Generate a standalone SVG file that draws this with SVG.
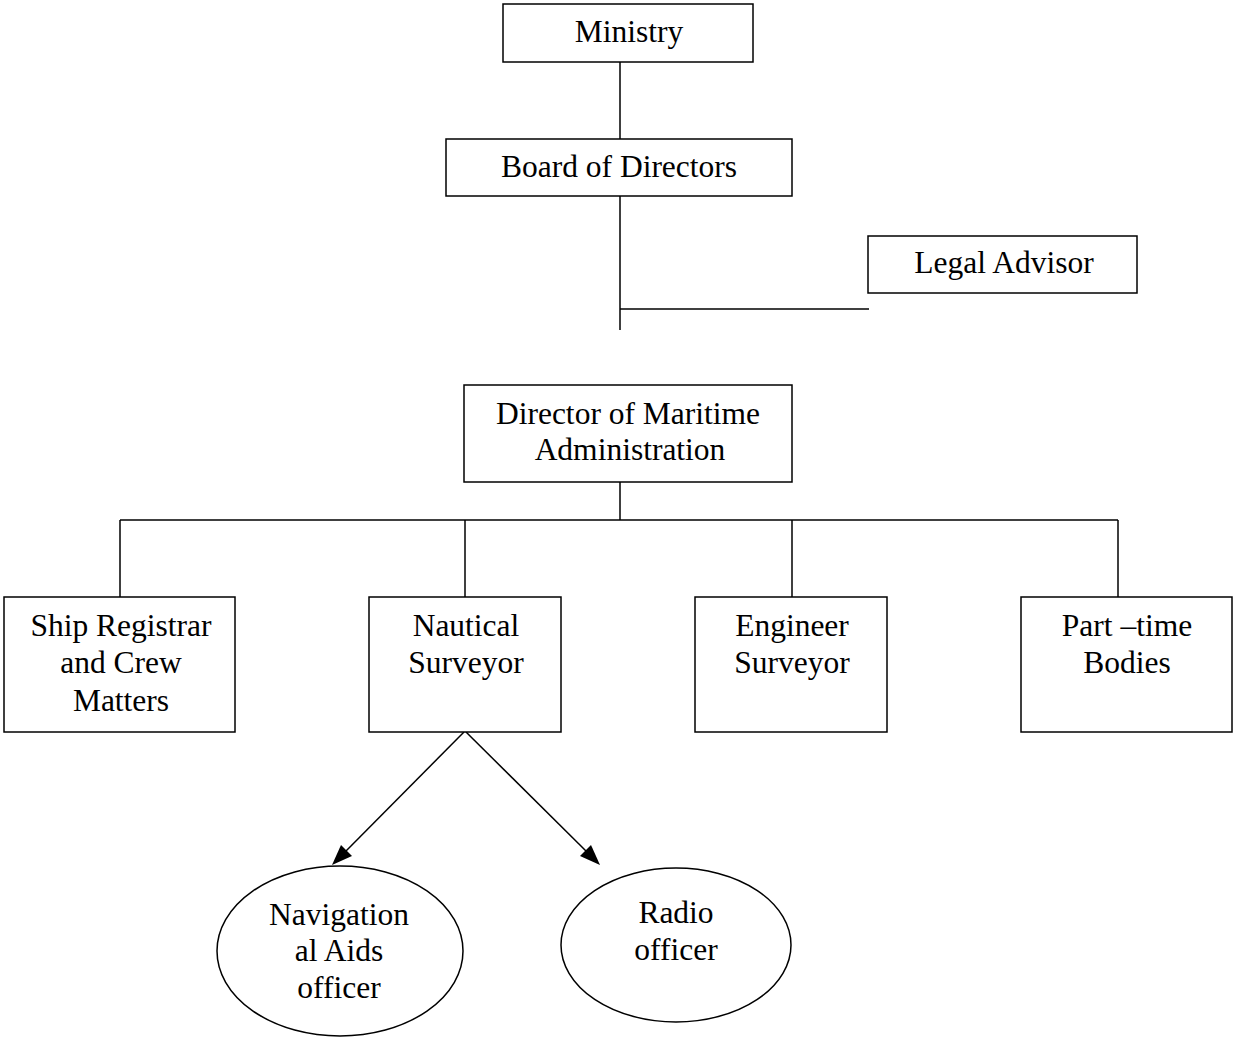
<svg xmlns="http://www.w3.org/2000/svg" width="1234" height="1038" viewBox="0 0 1234 1038">
<defs>
<style>
.box{fill:#fff;stroke:#000;stroke-width:1.5}
.t{font-family:"Liberation Serif","Times New Roman",serif;font-size:31.5px;fill:#000;text-anchor:middle}
.c{stroke:#000;stroke-width:1.5;fill:none}
.ah{fill:#000}
</style>
</defs>
<rect width="1234" height="1038" fill="#fff"/>
<g id="connectors">
<line class="c" x1="620" y1="62" x2="620" y2="139"/>
<line class="c" x1="620" y1="196" x2="620" y2="330"/>
<line class="c" x1="620" y1="309" x2="869" y2="309"/>
<line class="c" x1="620" y1="482" x2="620" y2="520"/>
<line class="c" x1="120" y1="520" x2="1118" y2="520"/>
<line class="c" x1="120" y1="520" x2="120" y2="597"/>
<line class="c" x1="465" y1="520" x2="465" y2="597"/>
<line class="c" x1="792" y1="520" x2="792" y2="597"/>
<line class="c" x1="1118" y1="520" x2="1118" y2="597"/>
<path d="M464,732 L346,851" class="c"/>
<path class="ah" d="M332,865 L341,845 L352,856 Z"/>
<path d="M466,732 L586,851" class="c"/>
<path class="ah" d="M600,865 L580,856 L591,845 Z"/>
</g>
<g id="ministry"><rect class="box" x="503" y="4" width="250" height="58"/><text class="t" x="629" y="42">Ministry</text></g>
<g id="board"><rect class="box" x="446" y="139" width="346" height="57"/><text class="t" x="619" y="177">Board of Directors</text></g>
<g id="legal"><rect class="box" x="868" y="236" width="269" height="57"/><text class="t" x="1004" y="273">Legal Advisor</text></g>
<g id="director"><rect class="box" x="464" y="385" width="328" height="97"/><text class="t" x="628" y="424">Director of Maritime</text><text class="t" x="630" y="460">Administration</text></g>
<g id="ship"><rect class="box" x="4" y="597" width="231" height="135"/><text class="t" x="121" y="636">Ship Registrar</text><text class="t" x="121" y="673">and Crew</text><text class="t" x="121" y="711">Matters</text></g>
<g id="nautical"><rect class="box" x="369" y="597" width="192" height="135"/><text class="t" x="466" y="636">Nautical</text><text class="t" x="466" y="673">Surveyor</text></g>
<g id="engineer"><rect class="box" x="695" y="597" width="192" height="135"/><text class="t" x="792" y="636">Engineer</text><text class="t" x="792" y="673">Surveyor</text></g>
<g id="parttime"><rect class="box" x="1021" y="597" width="211" height="135"/><text class="t" x="1127" y="636">Part –time</text><text class="t" x="1127" y="673">Bodies</text></g>
<g id="navigation"><ellipse class="box" cx="340" cy="951" rx="123" ry="85"/><text class="t" x="339" y="925">Navigation</text><text class="t" x="339" y="961">al Aids</text><text class="t" x="339" y="998">officer</text></g>
<g id="radio"><ellipse class="box" cx="676" cy="945" rx="115" ry="77"/><text class="t" x="676" y="923">Radio</text><text class="t" x="676" y="960">officer</text></g>
</svg>
